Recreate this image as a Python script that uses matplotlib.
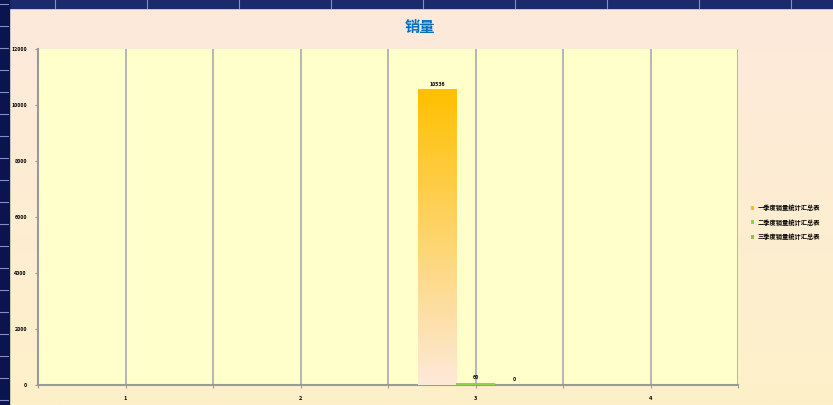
import matplotlib.pyplot as plt
import numpy as np
from matplotlib.colors import LinearSegmentedColormap

plt.rcParams['font.family'] = ['Noto Sans CJK SC', 'DejaVu Sans']

# --- data ---
categories = [1, 2, 3, 4]
series_names = ['一季度销量统计汇总表', '二季度销量统计汇总表', '三季度销量统计汇总表']
series_values = [
    [0, 0, 10536, 0],
    [0, 0, 60, 0],
    [0, 0, 0, 0],
]
series_colors = ['#FFC000', '#92D050', '#9BBB59']
y_ticks = [0, 2000, 4000, 6000, 8000, 10000, 12000]

fig = plt.figure(figsize=(8.33, 4.05), dpi=100)

# background: peach-to-cream gradient with dark blue frame strips
bg = fig.add_axes([0, 0, 1, 1], zorder=-10)
grad = LinearSegmentedColormap.from_list('bg', ['#FDE9DC', '#FEF1C9'])
bg.imshow(np.linspace(0, 1, 256).reshape(-1, 1), aspect='auto', cmap=grad,
          extent=[0, 1, 0, 1], origin='upper')
bg.add_patch(plt.Rectangle((0, 1 - 8 / 405), 1, 8 / 405, color='#1A2A6C'))
bg.add_patch(plt.Rectangle((0, 0), 9 / 833, 1, color='#0C1450'))
for x in np.arange(55, 833, 92):
    bg.plot([x / 833, x / 833], [1 - 8 / 405, 1], color='#8090C0', lw=0.8)
for y in np.arange(5, 405, 22):
    bg.plot([0, 8 / 833], [y / 405, y / 405], color='#8090C0', lw=0.8)
bg.set_xlim(0, 1)
bg.set_ylim(0, 1)
bg.axis('off')

ax = fig.add_axes([38 / 833, 20 / 405, 700 / 833, 336 / 405])
ax.set_facecolor('#FFFFCC')

width = 0.22
offsets = [-width, 0, width]
bar_cmap = LinearSegmentedColormap.from_list('bar', ['#FDE9D9', '#FFC000'])
for vals, name, color, off in zip(series_values, series_names, series_colors, offsets):
    x = np.array(categories) + off
    bars = ax.bar(x, vals, width=width, color=color, label=name, zorder=3)
    # value labels only for the populated category
    b, v = bars[2], vals[2]
    ax.text(b.get_x() + width / 2, v + 120, str(v), ha='center', va='bottom',
            fontsize=3.8, fontweight='bold', zorder=4)
    if color == '#FFC000':
        for b, v in zip(bars, vals):
            if v > 0:
                b.set_visible(False)
                ax.imshow(np.linspace(0, 1, 256).reshape(-1, 1), aspect='auto',
                          cmap=bar_cmap, origin='lower', zorder=3,
                          extent=[b.get_x(), b.get_x() + width, 0, v])

ax.set_xlim(0.5, 4.5)
ax.set_ylim(0, 12000)
ax.set_xticks(categories)
ax.set_xticklabels([str(c) for c in categories], fontsize=4, fontweight='bold')
ax.set_xticks(np.arange(0.5, 4.6, 0.5), minor=True)
ax.set_yticks(y_ticks)
ax.set_yticklabels([str(t) for t in y_ticks], fontsize=3.8, fontweight='bold')
ax.grid(axis='x', which='both', color='#B4B4B4', lw=1.4, zorder=1)
ax.tick_params(axis='both', which='both', length=2, color='#999999', width=0.8, pad=6)
for s in ['top', 'right']:
    ax.spines[s].set_visible(False)
for s in ['left', 'bottom']:
    ax.spines[s].set_color('#999999')
    ax.spines[s].set_linewidth(1.5)

fig.text(420 / 833, 1 - 27 / 405, '销量', ha='center', va='center',
         fontsize=11, fontweight='bold', color='#0070C0')

handles, labels = ax.get_legend_handles_labels()
fig.legend(handles, labels, loc='center left', bbox_to_anchor=(745 / 833, 1 - 222 / 405),
           fontsize=4.5, frameon=False, handlelength=0.6, handleheight=0.6,
           labelspacing=1.2, handletextpad=0.5,
           prop={'size': 4.5, 'weight': 'bold'})

fig.savefig('out.png', dpi=100)
